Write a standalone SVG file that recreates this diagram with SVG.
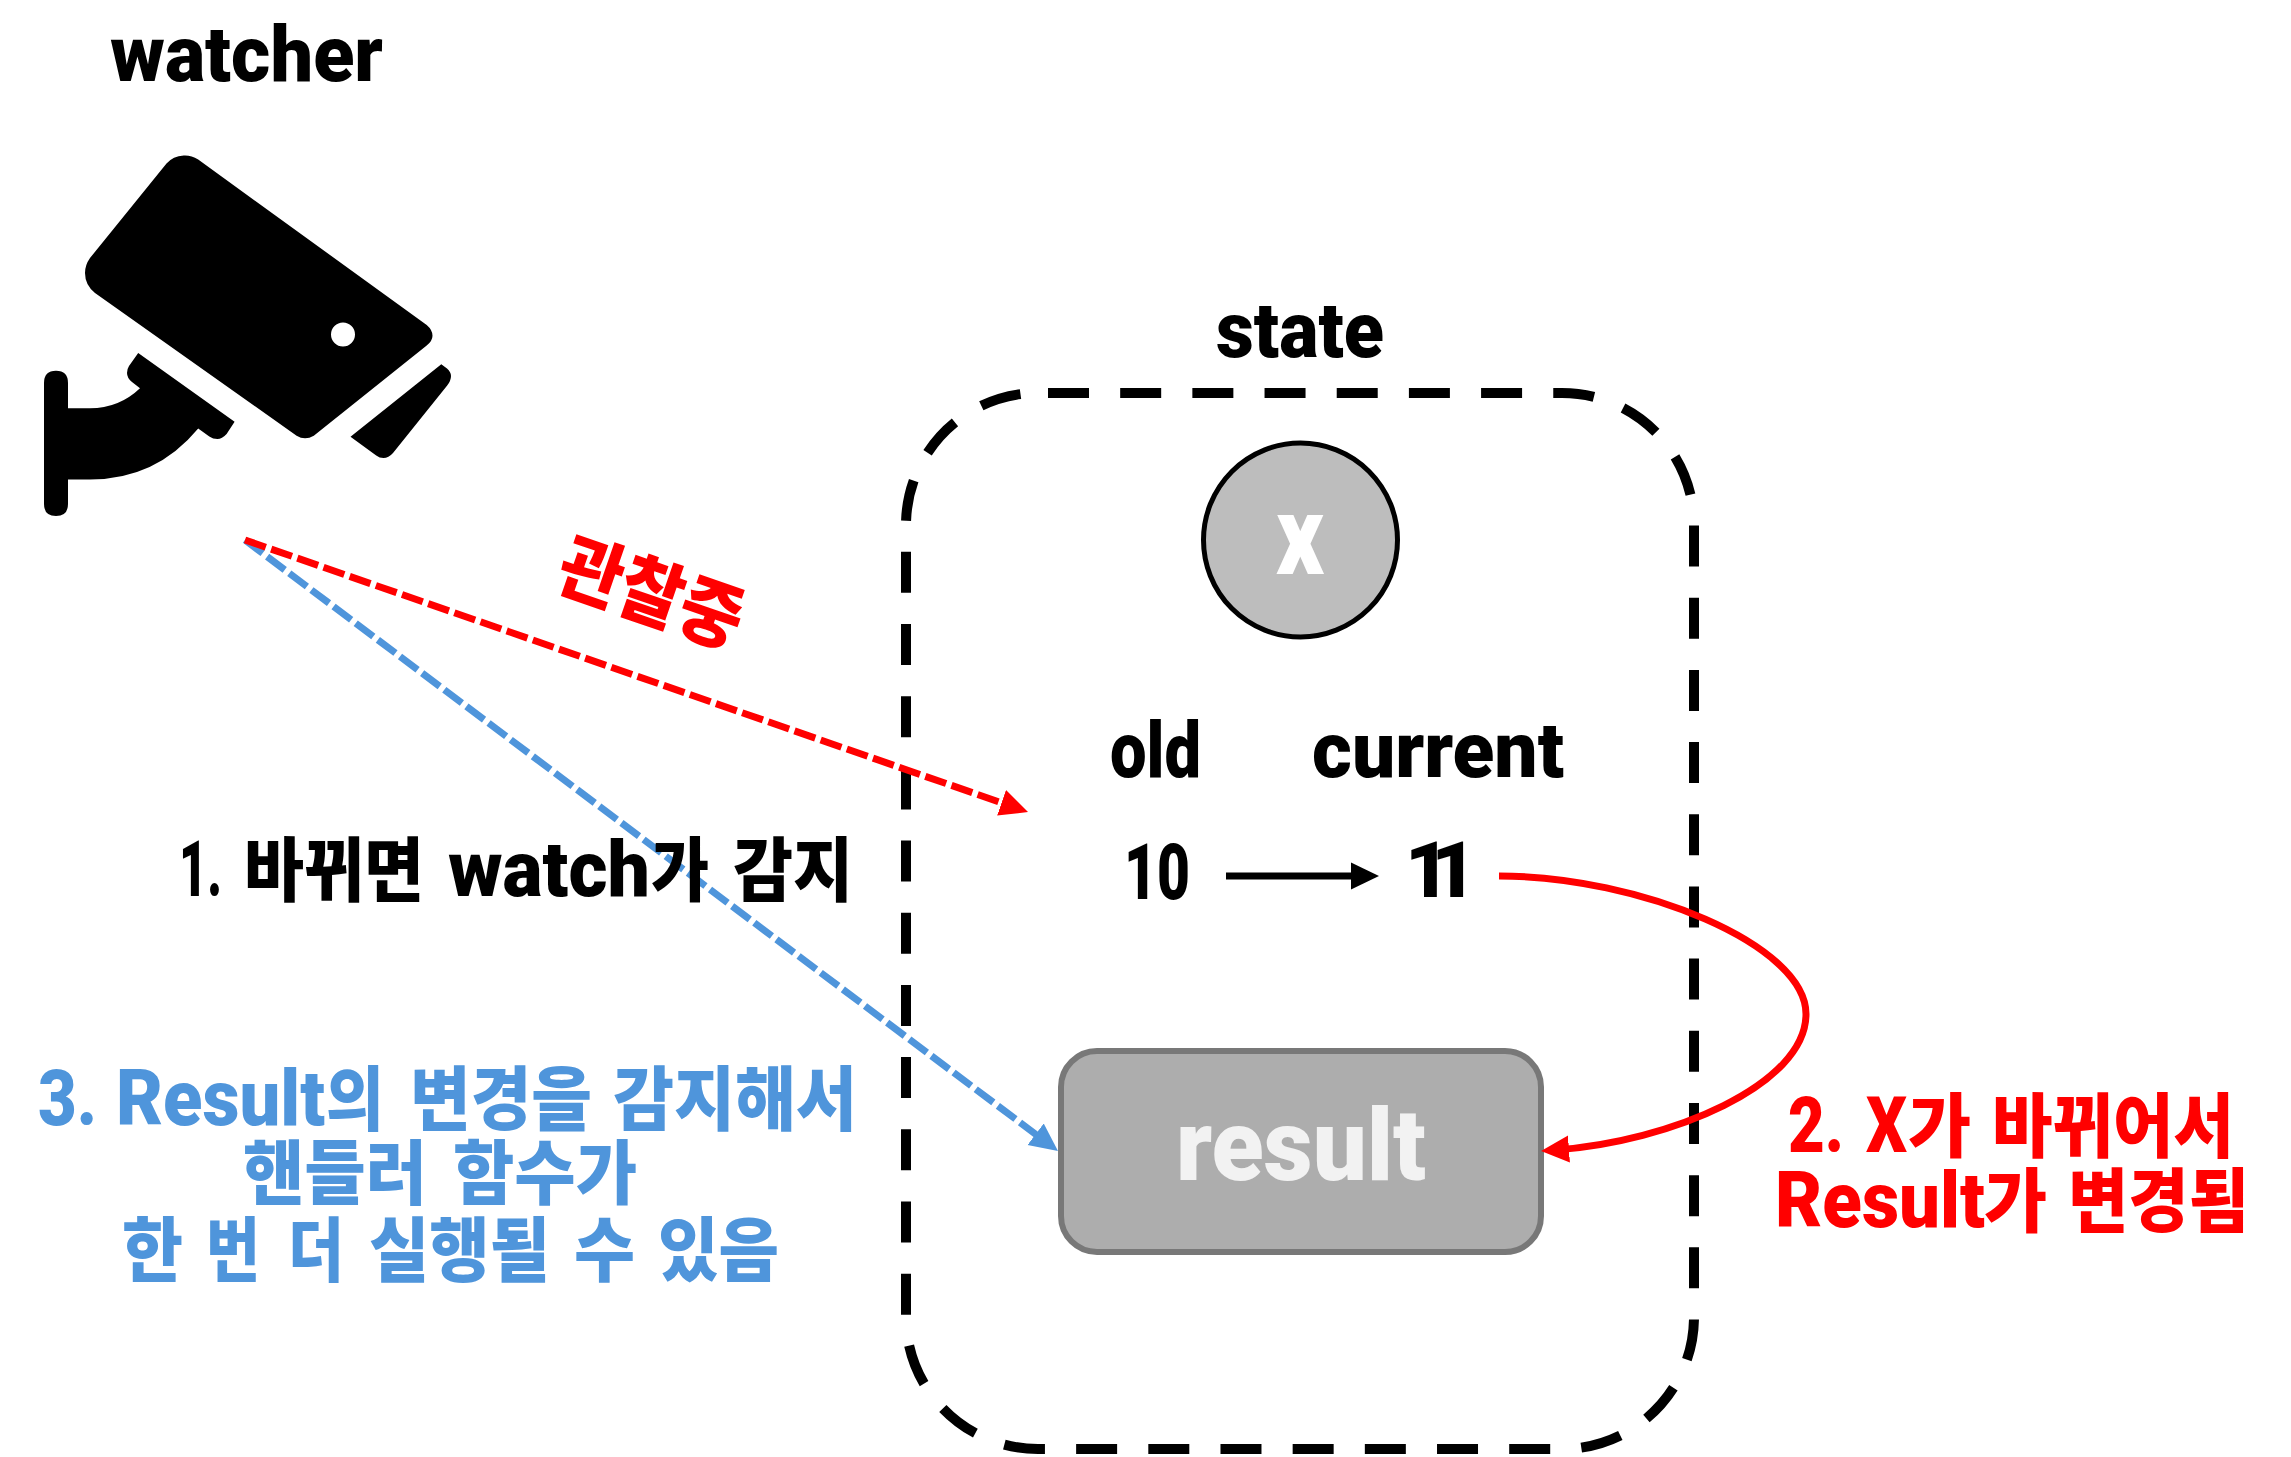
<svg xmlns="http://www.w3.org/2000/svg" width="2291" height="1457" viewBox="0 0 2291 1457">
<style>
text{font-family:Roboto,"Noto Sans CJK KR","Noto Sans",sans-serif;font-weight:900}
.k{fill:#000}.r{fill:#f00}.b{fill:#4f95db}
.s75{font-size:78px}.s68{font-size:70px}
.l{font-size:77px}
.ln{fill:none}
</style>
<defs>
<marker id="hk" markerUnits="userSpaceOnUse" markerWidth="30" markerHeight="30" refX="14" refY="14" orient="auto"><path d="M0 0.5L28 14L0 27.5z" fill="#000"/></marker>
<marker id="hr" markerUnits="userSpaceOnUse" markerWidth="30" markerHeight="30" refX="14" refY="14" orient="auto"><path d="M0 0.5L28 14L0 27.5z" fill="#f00"/></marker>
<marker id="hb" markerUnits="userSpaceOnUse" markerWidth="30" markerHeight="30" refX="14" refY="14" orient="auto"><path d="M0 0.5L28 14L0 27.5z" fill="#4f95db"/></marker>
</defs>
<rect width="2291" height="1457" fill="#fff"/>
<g id="state-box">
<rect x="906" y="393" width="788" height="1056" rx="132" ry="132" fill="none" stroke="#000" stroke-width="10" stroke-dasharray="41 31.18" stroke-dashoffset="-10"/>
<text class="k s75" x="1216" y="357" textLength="168" lengthAdjust="spacingAndGlyphs">state</text>
</g>
<g id="watcher">
<text class="k s75" x="110" y="81" textLength="273" lengthAdjust="spacingAndGlyphs">watcher</text>
<path fill-rule="evenodd" d="M166.5 163.6L90 258Q85 265 85 273Q85 285 95 293L296.6 435.7Q305 441 313.8 435.7L426.7 345.4Q432.5 341 432.5 335.7Q432.5 330 426.7 325L198.2 159.6Q191 155 183.7 155.5Q173 156 166.5 163.6ZM355 334.6a12 12 0 1 0-24 0a12 12 0 1 0 24 0Z"/>
<path d="M441.3 364.3L447 368.5Q451 372 451 376Q451 381 447 385.7L393 452.9Q388.5 458 383.5 458Q379.5 458 376.2 455.4L350.5 436.8Z"/>
<path d="M44 383Q44 370.7 56 370.7Q68 370.7 68 383V408.2H90Q119 408.2 140 388.2L132 382.1Q127 378 127 373Q127 369 129 366L138.2 352.9L234.6 421.8L226.6 433.9Q222 439 217.4 439Q213 439 209.3 436.4L198.2 428.6Q156 479.6 90 479.6H68V504Q68 516 56 516Q44 516 44 504Z"/>
</g>
<g id="x">
<circle cx="1300.5" cy="540" r="97" fill="#bdbdbd" stroke="#000" stroke-width="5"/>
<text x="1276" y="574" font-size="112" fill="#fff" textLength="48" lengthAdjust="spacingAndGlyphs">x</text>
</g>
<g id="old"><text class="k s75" x="1110" y="777" textLength="91" lengthAdjust="spacingAndGlyphs">old</text></g>
<g id="current"><text class="k s75" x="1312" y="777" textLength="252" lengthAdjust="spacingAndGlyphs">current</text></g>
<g id="val-10"><text class="k s75" x="1124" y="899" textLength="66" lengthAdjust="spacingAndGlyphs">10</text></g>
<g id="val-11"><text class="k s75" x="1405" y="897" letter-spacing="-19">11</text></g>
<g id="result">
<rect x="1061" y="1051" width="480" height="201" rx="36" ry="36" fill="#adadad" stroke="#787878" stroke-width="6"/>
<text x="1176" y="1180" font-size="100" fill="#f2f2f2" textLength="250" lengthAdjust="spacingAndGlyphs">result</text>
</g>
<g id="connectors" class="ln" stroke-width="7">
<path d="M245 540L1046.8 1142.6" stroke="#4f95db" stroke-dasharray="22 5.7" marker-end="url(#hb)"/>
<path d="M245 540L1014.8 807.4" stroke="#f00" stroke-dasharray="22 5.7" marker-end="url(#hr)"/>
<path d="M1226 876H1365" stroke="#000" marker-end="url(#hk)"/>
<path d="M1499 876C1640 876 1806 945 1806 1014C1806 1085 1670 1142 1555 1150" stroke="#f00" marker-end="url(#hr)"/>
</g>
<g id="labels">
<text class="r" font-size="74" transform="translate(553 587) rotate(19)" textLength="190" lengthAdjust="spacingAndGlyphs">관찰중</text>
<text class="k s68" y="896"><tspan class="l" x="179" textLength="43" lengthAdjust="spacingAndGlyphs">1.</tspan> <tspan x="244" textLength="180" lengthAdjust="spacingAndGlyphs">바뀌면</tspan> <tspan class="l" x="448" textLength="202" lengthAdjust="spacingAndGlyphs">watch</tspan><tspan x="651" textLength="58" lengthAdjust="spacingAndGlyphs">가</tspan> <tspan x="733" textLength="120" lengthAdjust="spacingAndGlyphs">감지</tspan></text>
<text class="b s68" y="1125"><tspan class="l" x="38" textLength="59" lengthAdjust="spacingAndGlyphs">3.</tspan> <tspan class="l" x="116" textLength="209" lengthAdjust="spacingAndGlyphs">Result</tspan><tspan x="326" textLength="58" lengthAdjust="spacingAndGlyphs">의</tspan> <tspan x="410" textLength="182" lengthAdjust="spacingAndGlyphs">변경을</tspan> <tspan x="613" textLength="244" lengthAdjust="spacingAndGlyphs">감지해서</tspan></text>
<text class="b s68" y="1199"><tspan x="243" textLength="184" lengthAdjust="spacingAndGlyphs">핸들러</tspan> <tspan x="453" textLength="184" lengthAdjust="spacingAndGlyphs">함수가</tspan></text>
<text class="b s68" y="1276"><tspan x="122" textLength="61" lengthAdjust="spacingAndGlyphs">한</tspan> <tspan x="206" textLength="54" lengthAdjust="spacingAndGlyphs">번</tspan> <tspan x="288" textLength="56" lengthAdjust="spacingAndGlyphs">더</tspan> <tspan x="369" textLength="181" lengthAdjust="spacingAndGlyphs">실행될</tspan> <tspan x="574" textLength="61" lengthAdjust="spacingAndGlyphs">수</tspan> <tspan x="658" textLength="121" lengthAdjust="spacingAndGlyphs">있음</tspan></text>
<text class="r s68" y="1152"><tspan class="l" x="1788" textLength="56" lengthAdjust="spacingAndGlyphs">2.</tspan> <tspan class="l" x="1866" textLength="41" lengthAdjust="spacingAndGlyphs">X</tspan><tspan x="1908" textLength="63" lengthAdjust="spacingAndGlyphs">가</tspan> <tspan x="1992" textLength="242" lengthAdjust="spacingAndGlyphs">바뀌어서</tspan></text>
<text class="r s68" y="1227"><tspan class="l" x="1775" textLength="210" lengthAdjust="spacingAndGlyphs">Result</tspan><tspan x="1984" textLength="63" lengthAdjust="spacingAndGlyphs">가</tspan> <tspan x="2068" textLength="181" lengthAdjust="spacingAndGlyphs">변경됨</tspan></text>
</g>
</svg>
